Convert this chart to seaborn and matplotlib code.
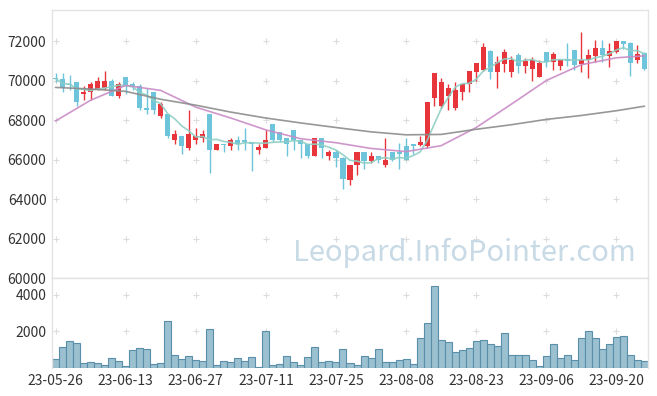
import matplotlib
matplotlib.use('Agg')
import matplotlib.pyplot as plt
import numpy as np
import pandas as pd
import seaborn as sns

# 일봉 데이터 (23-05-26 ~ 23-09-26)
opens = [70150, 70100, 69800, 69900, 69300, 69400, 69500, 69600, 70000, 69200,
         70200, 69800, 69700, 68600, 69400, 68200, 68300, 67000, 67200, 66600,
         67000, 67100, 68300, 66500, 66800, 66700, 67000, 67000, 66900, 66500,
         66600, 67800, 67400, 67100, 67500, 67000, 66800, 66200, 67100, 66200,
         66400, 66100, 64950, 65700, 66400, 65900, 66200, 65700, 66400, 66400,
         66700, 66800, 66750, 66700, 69100, 68700, 69200, 68600, 69400, 69800,
         70450, 70550, 71500, 70450, 70850, 70450, 71300, 70750, 70600, 70200,
         71450, 70950, 70750, 71100, 71550, 70850, 71050, 71250, 71650, 71250,
         71450, 72000, 71900, 71050, 71400]
highs = [70400, 70400, 70300, 69900, 69700, 69900, 70200, 70500, 70100, 69900,
         70200, 69900, 69800, 69600, 69400, 68900, 68300, 67500, 67200, 68500,
         67600, 67500, 68300, 66800, 66800, 67100, 67200, 67600, 66900, 66800,
         67500, 67800, 67400, 67100, 67500, 67000, 66800, 67100, 67100, 66500,
         66500, 66150, 65700, 66400, 66400, 66400, 66200, 67100, 66400, 66850,
         67100, 66800, 67200, 68900, 70400, 70150, 69800, 69900, 69800, 70500,
         70900, 71900, 71550, 71250, 71600, 71250, 71400, 71150, 71200, 71050,
         71450, 71450, 71050, 71900, 71550, 72470, 71600, 72050, 72050, 71900,
         72000, 72000, 71950, 71800, 71450]
lows = [69900, 69400, 69500, 68700, 69000, 69000, 69500, 69500, 69200, 69100,
        69300, 69500, 68500, 68300, 68300, 68100, 67100, 66800, 66300, 66500,
        66800, 66900, 65300, 66500, 66400, 66500, 66500, 66500, 65400, 66300,
        66600, 66900, 66900, 66200, 66500, 66100, 66100, 66200, 66100, 65950,
        65600, 64500, 64700, 65200, 65500, 65800, 65800, 65600, 65900, 65500,
        65950, 66300, 66700, 66600, 68700, 68600, 68500, 68500, 69000, 69400,
        69950, 70500, 70100, 69600, 70450, 70200, 70400, 70400, 70000, 70200,
        70700, 70550, 70550, 70750, 70550, 70450, 70150, 70950, 70950, 70700,
        71400, 71600, 70250, 70900, 70550]
closes = [70100, 69600, 69750, 68900, 69400, 69800, 70000, 70000, 69200, 69800,
          69700, 69700, 68600, 68500, 68500, 68800, 67200, 67300, 66700, 67300,
          67200, 67300, 66500, 66800, 66750, 67000, 66800, 66900, 66800, 66650,
          67000, 67000, 67000, 66800, 67000, 66800, 66200, 67100, 66600, 66400,
          66100, 65000, 65700, 66400, 65900, 66200, 66000, 66000, 66000, 66300,
          66000, 66700, 66900, 68900, 70400, 69900, 69600, 69500, 69800, 70500,
          70900, 71700, 70450, 70950, 71450, 71050, 70750, 71000, 71050, 70900,
          70950, 71350, 71050, 71000, 70800, 71050, 71300, 71650, 71300, 71500,
          72000, 71850, 70900, 71350, 70600]
volumes = [500, 1160, 1455, 1380, 280, 350, 280, 170, 550, 405,
           110, 995, 1105, 1050, 220, 280, 2600, 720, 500, 660,
           440, 390, 2155, 165, 390, 330, 550, 390, 610, 55,
           2045, 165, 220, 660, 330, 165, 610, 1160, 330, 405,
           350, 1050, 295, 165, 660, 550, 1050, 350, 350, 440,
           500, 220, 1660, 2490, 4490, 1550, 1400, 900, 995, 1105,
           1455, 1550, 1290, 1215, 1900, 720, 720, 720, 440, 110,
           660, 1290, 550, 720, 440, 1660, 2045, 1660, 1050, 1290,
           1715, 1770, 720, 440, 405]

# 20일 / 60일 이동평균 (그림에서 5거래일 간격으로 읽은 값)
ma_idx = [0, 5, 10, 15, 20, 25, 30, 35, 40, 45, 50, 55, 60, 65, 70, 75, 80, 84]
ma20 = [67950, 69000, 69750, 69500, 68650, 68100, 67500, 67050, 66850, 66560,
        66400, 66700, 67620, 68800, 70000, 70800, 71150, 71250]
ma60 = [69650, 69570, 69450, 69050, 68750, 68400, 68100, 67850, 67620, 67400,
        67250, 67270, 67530, 67760, 68030, 68230, 68470, 68700]

tick_pos = [0, 10, 20, 30, 40, 50, 60, 70, 80]
tick_labels = ['23-05-26', '23-06-13', '23-06-27', '23-07-11', '23-07-25',
               '23-08-08', '23-08-23', '23-09-06', '23-09-20']

UP = '#e8353b'
DOWN = '#6ec4da'

sns.set_style('white')
plt.rcParams['font.family'] = ['Noto Sans CJK KR', 'DejaVu Sans']
plt.rcParams['axes.unicode_minus'] = False

df = pd.DataFrame({'open': opens, 'high': highs, 'low': lows,
                   'close': closes, 'volume': volumes})
df['idx'] = np.arange(len(df))
df['ma5'] = df['close'].rolling(5, min_periods=1).mean()

fig = plt.figure(figsize=(6.57, 3.96), dpi=100)
ax = fig.add_axes([52/657, 1-278/396, 596/657, 268/396])
axv = fig.add_axes([52/657, 1-368/396, 596/657, 90/396], sharex=ax)

# 격자 + 표시
def plus_grid(a, ys):
    gx, gy = np.meshgrid(tick_pos, ys)
    a.scatter(gx.ravel(), gy.ravel(), marker='+', s=22, color='#dcdcdc',
              linewidths=0.8, zorder=0)

plus_grid(ax, [62000, 64000, 66000, 68000, 70000, 72000])
plus_grid(axv, [2000, 4000])

# 캔들
up = df['close'] >= df['open']
colors = np.where(up, UP, DOWN)
ax.vlines(df['idx'], df['low'], df['high'], colors=colors, linewidth=1.0, zorder=2)
body_lo = np.minimum(df['open'], df['close'])
body_h = np.maximum((df['close'] - df['open']).abs(), 45)
ax.bar(df['idx'], body_h, bottom=body_lo, width=0.72, color=colors,
       linewidth=0, zorder=3)

# 이동평균선
sns.lineplot(x=df['idx'], y=df['ma5'], ax=ax, color='#8ecfc4', linewidth=1.2,
             alpha=0.9, zorder=4)
sns.lineplot(x=ma_idx, y=ma20, ax=ax, color='#c98bc6', linewidth=1.2,
             alpha=0.9, zorder=4)
sns.lineplot(x=ma_idx, y=ma60, ax=ax, color='#8c8c8c', linewidth=1.2,
             alpha=0.9, zorder=4)

# 거래량
sns.barplot(x=df['idx'], y=df['volume'], ax=axv, native_scale=True, width=1.0,
            color='#9bc0d0', saturation=1, edgecolor='#5a8fab', linewidth=0.8,
            errorbar=None, zorder=2)

ax.set_xlim(-0.5, 84.5)
ax.set_ylim(60000, 73570)
axv.set_ylim(0, 4930)
ax.set_yticks([60000, 62000, 64000, 66000, 68000, 70000, 72000])
axv.set_yticks([2000, 4000])
axv.set_xticks(tick_pos)
axv.set_xticklabels(tick_labels)
ax.tick_params(labelbottom=False)

for a in (ax, axv):
    a.set_xlabel('')
    a.set_ylabel('')
    a.tick_params(length=0, labelsize=10, colors='#333333', pad=4)
    for s in a.spines.values():
        s.set_color('#e3e3e3')
        s.set_linewidth(1.0)
axv.spines['bottom'].set_visible(False)

ax.text(0.98, 0.093, 'Leopard.InfoPointer.com', transform=ax.transAxes,
        ha='right', va='center', fontsize=21, color='#c7dae5', zorder=5)

fig.savefig('out.png', dpi=100)
